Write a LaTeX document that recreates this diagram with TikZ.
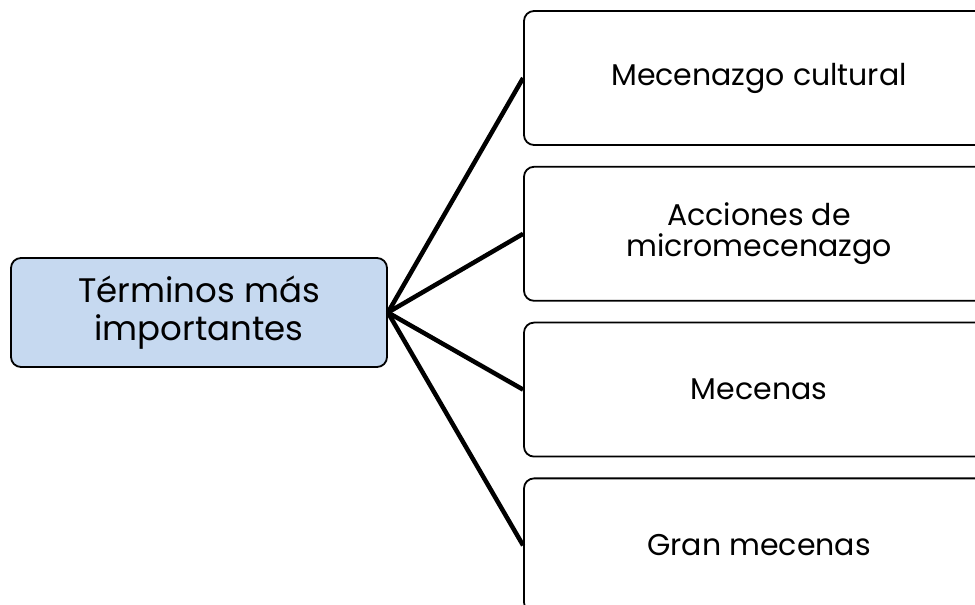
\documentclass[tikz,border=0pt]{standalone}
\usepackage{fontspec}
\setmainfont{Poppins}
\usetikzlibrary{positioning}
\definecolor{hubblue}{RGB}{198,217,240}

\begin{document}
\begin{tikzpicture}[x=1pt,y=1pt,align=center,node distance=20pt]
\tikzstyle{hub}=[draw=black,line width=1.8pt,rounded corners=10pt,fill=hubblue,
  minimum width=376pt,minimum height=109pt,inner sep=0pt,
  font=\fontsize{34}{38}\selectfont]
\tikzstyle{term}=[draw=black,line width=1.8pt,rounded corners=10pt,fill=white,
  minimum width=470pt,minimum height=134pt,inner sep=0pt,
  font=\fontsize{30}{31}\selectfont]
\tikzstyle{branch}=[-,line width=4.5pt]

\useasboundingbox (0,0) rectangle (975,605);
\clip (0,0) rectangle (975,605);

\node[hub] (terms) at (199,292.5) {Términos más\\importantes};

\node[term] (t1) at (759,527) {Mecenazgo cultural};
\node[term] (t2) [below = of t1] {Acciones de\\micromecenazgo};
\node[term] (t3) [below = of t2] {Mecenas};
\node[term] (t4) [below = of t3] {Gran mecenas};

\path
  	(terms.east) edge [branch] (t1.west)
  	(terms.east) edge [branch] (t2.west)
  	(terms.east) edge [branch] (t3.west)
  	(terms.east) edge [branch] (t4.west);
\end{tikzpicture}
\end{document}
